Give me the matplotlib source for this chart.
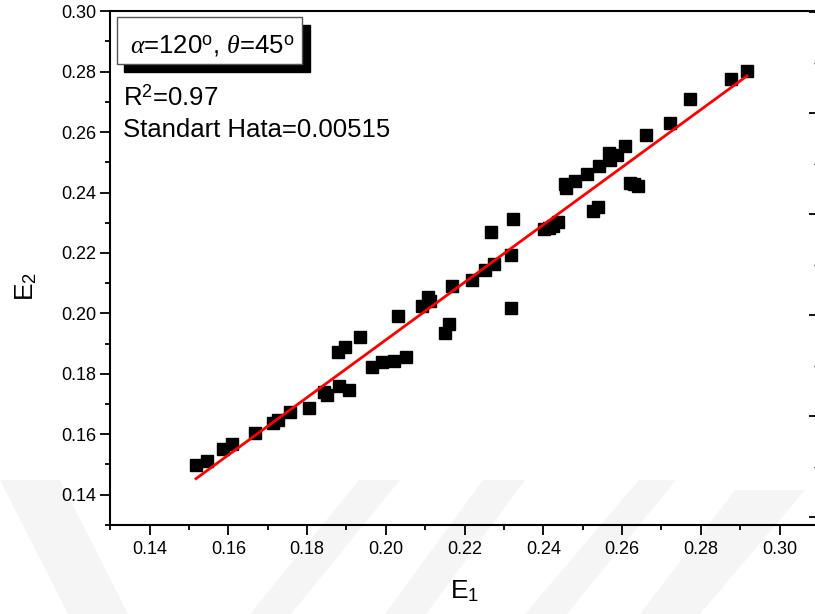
import numpy as np
import matplotlib
matplotlib.use("Agg")
import matplotlib.pyplot as plt
from matplotlib.patches import Rectangle, Polygon
from matplotlib.ticker import MultipleLocator, FormatStrFormatter

plt.rcParams['font.family'] = ['Liberation Sans', 'DejaVu Sans']
plt.rcParams['mathtext.fontset'] = 'custom'
plt.rcParams['mathtext.rm'] = 'Liberation Sans'
plt.rcParams['mathtext.it'] = 'Liberation Serif:italic'
plt.rcParams['mathtext.bf'] = 'Liberation Sans:bold'

# ---- data ----
e1 = [0.1518, 0.1546, 0.1586, 0.1609, 0.1667, 0.1713, 0.1726, 0.1756, 0.1805,
      0.1843, 0.1850, 0.1881, 0.1906, 0.1878, 0.1896, 0.1934, 0.1965, 0.1990,
      0.2020, 0.2051, 0.2031, 0.2092, 0.2107, 0.2112, 0.2150, 0.2160, 0.2168,
      0.2219, 0.2252, 0.2275, 0.2267, 0.2318, 0.2323, 0.2318, 0.2402, 0.2415,
      0.2425, 0.2437, 0.2455, 0.2457, 0.2480, 0.2511, 0.2541, 0.2526, 0.2539,
      0.2567, 0.2569, 0.2587, 0.2607, 0.2620, 0.2630, 0.2640, 0.2660, 0.2721,
      0.2772, 0.2876, 0.2917]
e2 = [0.1498, 0.1511, 0.1551, 0.1567, 0.1604, 0.1637, 0.1647, 0.1673, 0.1686,
      0.1739, 0.1729, 0.1759, 0.1746, 0.1872, 0.1889, 0.1922, 0.1822, 0.1839,
      0.1842, 0.1855, 0.1991, 0.2024, 0.2054, 0.2041, 0.1935, 0.1965, 0.2090,
      0.2110, 0.2143, 0.2163, 0.2269, 0.2193, 0.2312, 0.2018, 0.2279, 0.2282,
      0.2289, 0.2302, 0.2428, 0.2415, 0.2438, 0.2461, 0.2488, 0.2339, 0.2352,
      0.2531, 0.2508, 0.2524, 0.2554, 0.2431, 0.2428, 0.2422, 0.2590, 0.2630,
      0.2710, 0.2776, 0.2802]
fit_slope = 0.953
fit_intercept = 0.0006
title_text = r'$\mathit{\alpha}$=120$^\mathregular{o}$, $\mathit{\theta}$=45$^\mathregular{o}$'
r2_text = r'R$^\mathregular{2}$=0.97'
err_text = 'Standart Hata=0.00515'
x_ticks = [0.14, 0.16, 0.18, 0.20, 0.22, 0.24, 0.26, 0.28, 0.30]
y_ticks = [0.14, 0.16, 0.18, 0.20, 0.22, 0.24, 0.26, 0.28, 0.30]

fig = plt.figure(figsize=(8.15, 6.14), dpi=100)

# faint background watermark bands (figure pixel coordinates, origin bottom-left)
W, H = 815.0, 614.0
bands = [
    [(0, 134), (60, 134), (128, 0), (68, 0)],
    [(359, 134), (400, 134), (291, 0), (250, 0)],
    [(483, 134), (525, 134), (426, 0), (385, 0)],
    [(639, 134), (676, 134), (567, 0), (525, 0)],
    [(735, 124), (805, 124), (700, 0), (640, 0)],
]
for b in bands:
    fig.patches.append(Polygon([(x / W, y / H) for x, y in b], closed=True,
                               transform=fig.transFigure, facecolor='#f5f5f5',
                               edgecolor='none', zorder=-10))

ax = fig.add_axes([0.1352, 0.1454, 0.8697, 0.8362])
ax.set_facecolor('none')

ax.plot(e1, e2, linestyle='none', marker='s', markersize=8.8, color='black', zorder=3)
xf = np.array([min(e1), max(e1)])
ax.plot(xf, fit_slope * xf + fit_intercept, color='#ff0000', linewidth=2.0, zorder=4)

ax.set_xlim(0.13, 0.31)
ax.set_ylim(0.13, 0.30)
ax.set_xticks(x_ticks)
ax.set_yticks(y_ticks)
ax.xaxis.set_minor_locator(MultipleLocator(0.01))
ax.yaxis.set_minor_locator(MultipleLocator(0.01))
ax.xaxis.set_major_formatter(FormatStrFormatter('%.2f'))
ax.yaxis.set_major_formatter(FormatStrFormatter('%.2f'))
ax.tick_params(which='major', direction='out', length=7, width=1.3, labelsize=13, pad=3)
ax.tick_params(which='minor', direction='out', length=3.6, width=1.3)
ax.tick_params(axis='x', which='major', pad=5)
for s in ax.spines.values():
    s.set_linewidth(1.5)

# right-hand tick marks (inward, unlabeled)
ax2 = ax.twinx()
ax2.set_facecolor('none')
ax2.set_ylim(-1.076, 4.007)
ax2.yaxis.set_major_locator(MultipleLocator(1))
ax2.yaxis.set_minor_locator(MultipleLocator(0.5))
ax2.tick_params(which='major', direction='in', length=7, width=1.3, labelright=False)
ax2.tick_params(which='minor', direction='in', length=3.6, width=1.0)
for s in ax2.spines.values():
    s.set_visible(False)

ax.set_xlabel(r'E$_\mathregular{1}$', fontsize=19)
ax.set_ylabel(r'E$_\mathregular{2}$', fontsize=19)
ax.xaxis.set_label_coords(0.5, -0.105)
ax.yaxis.set_label_coords(-0.10, 0.465)

# title box with shadow
ax.add_patch(Rectangle((0.0194, 0.8818), 0.2624, 0.0919, transform=ax.transAxes,
                       facecolor='black', edgecolor='black', zorder=5, clip_on=False))
ax.add_patch(Rectangle((0.0096, 0.8974), 0.261, 0.0916, transform=ax.transAxes,
                       facecolor='white', edgecolor='#555555', linewidth=1.0, zorder=6, clip_on=False))
ax.text(0.1445, 0.9188, title_text, transform=ax.transAxes, fontsize=18.5,
        ha='center', va='baseline', zorder=7)
ax.text(0.018, 0.8155, r2_text, transform=ax.transAxes, fontsize=18.5,
        ha='left', va='baseline', zorder=7)
ax.text(0.018, 0.755, err_text, transform=ax.transAxes, fontsize=18.5,
        ha='left', va='baseline', zorder=7)

fig.savefig('out.png', dpi=100)
